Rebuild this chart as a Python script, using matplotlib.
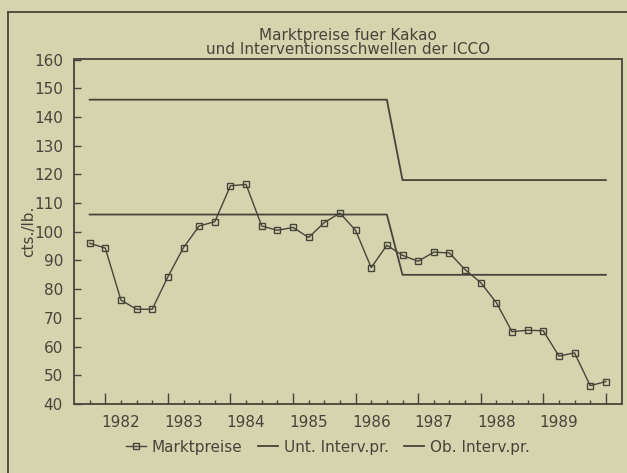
import matplotlib
matplotlib.use("Agg")
import matplotlib.pyplot as plt
from matplotlib.lines import Line2D
import numpy as np

# quarterly cocoa market prices (cts./lb.), Q4 1981 .. Q1 1990
market = [96, 94.3, 76.2, 73, 73, 84.3, 94.5, 102, 103.5, 116, 116.5, 102,
          100.5, 101.5, 98, 103.2, 106.5, 100.5, 87.5, 95.3, 91.8, 89.7, 92.9,
          92.6, 86.8, 82.3, 75.3, 65.2, 65.7, 65.5, 56.7, 57.8, 46.4, 47.8]
quarters = np.arange(len(market))

# ICCO intervention thresholds (step at mid 1986)
interv_q = [0, 19, 20, 33]
lower_interv = [106, 106, 85, 85]
upper_interv = [146, 146, 118, 118]

years = ['1982', '1983', '1984', '1985', '1986', '1987', '1988', '1989']
year_pos = [2, 6, 10, 14, 18, 22, 26, 30]
major_pos = [1, 5, 9, 13, 17, 21, 25, 29, 33]

BG = '#d6d3af'
INK = '#46453a'
FS = 11

plt.rcParams['font.family'] = 'DejaVu Sans'
plt.rcParams['text.color'] = INK
plt.rcParams['axes.labelcolor'] = INK
plt.rcParams['xtick.color'] = INK
plt.rcParams['ytick.color'] = INK

fig = plt.figure(figsize=(6.27, 4.73), dpi=100, facecolor=BG)
ax = fig.add_axes([74 / 627, 1 - 404 / 473, 547.5 / 627, 344.5 / 473])
ax.set_facecolor(BG)

ax.plot(quarters, market, color=INK, lw=1.0, marker='s', ms=5,
        mfc='none', mec=INK, mew=1.0, label='Marktpreise')
ax.plot(interv_q, lower_interv, color=INK, lw=1.3, label='Unt. Interv.pr.')
ax.plot(interv_q, upper_interv, color=INK, lw=1.3, label='Ob. Interv.pr.')

ax.set_xlim(-1, 34)
ax.set_ylim(40, 160)
ax.set_yticks(np.arange(40, 161, 10))
ax.tick_params(axis='y', direction='in', length=5, width=1.0, pad=8,
               labelsize=FS)

minor_pos = [q for q in quarters if q not in major_pos]
ax.set_xticks(major_pos)
ax.set_xticklabels([])
ax.set_xticks(minor_pos, minor=True)
ax.tick_params(axis='x', which='major', direction='in', length=8, width=1.0)
ax.tick_params(axis='x', which='minor', direction='in', length=3, width=1.0)

sec = ax.secondary_xaxis('bottom')
sec.set_xticks(year_pos, years)
sec.tick_params(length=0, pad=8, labelsize=FS)
sec.spines['bottom'].set_visible(False)

for s in ax.spines.values():
    s.set_color(INK)
    s.set_linewidth(1.3)

ax.set_ylabel('cts./lb.', fontsize=FS)
ax.yaxis.set_label_coords(-0.07, 0.5)

ax.set_title('Marktpreise fuer Kakao\nund Interventionsschwellen der ICCO',
             fontsize=FS, linespacing=0.95, pad=4, color=INK)

fig.legend(loc='center', bbox_to_anchor=(328 / 627, 1 - 447 / 473), ncol=3,
           frameon=False, fontsize=FS, handlelength=1.3, handletextpad=0.4,
           columnspacing=1.0)

# outer frame (runs off the right and bottom edge)
x0, y0 = 8 / 627, 1 - 12 / 473
fig.add_artist(Line2D([x0, x0], [-0.1, y0], color=INK, lw=1.3))
fig.add_artist(Line2D([x0, 1.1], [y0, y0], color=INK, lw=1.3))

fig.savefig('out.png', dpi=100, facecolor=BG)
